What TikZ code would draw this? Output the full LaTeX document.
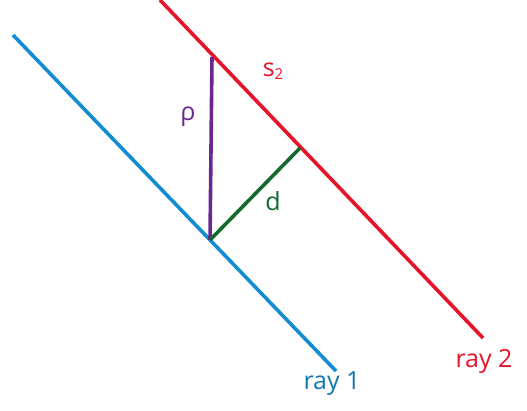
\documentclass[tikz,border=0pt]{standalone}
\usepackage{fontspec}
\setmainfont{Open Sans}
\usepackage{xcolor}
\definecolor{rayblue}{RGB}{20,140,210}
\definecolor{rayred}{RGB}{230,20,40}
\definecolor{rhopurple}{RGB}{105,40,145}
\definecolor{dgreen}{RGB}{20,105,45}

\begin{document}
\begin{tikzpicture}[
    x=1pt, y=-1pt,
    ray/.style={line width=3.6pt},
    lbl/.style={font=\fontsize{25}{28}\selectfont, inner sep=0pt},
]
\useasboundingbox (0,0) rectangle (527,410);
\coordinate (b1) at (13,35);
\coordinate (b2) at (336,371);
\coordinate (r1) at (160,0);
\coordinate (r2) at (483,338);
\coordinate (top) at (212,57);
\coordinate (foot) at (210,240);
\coordinate (perp) at (300,148);
\draw[ray, rayblue] (b1) -- (b2);
\draw[ray, rayred] (r1) -- (r2);
\draw[ray, rhopurple] (top) -- (foot);
\draw[ray, dgreen] (foot) -- (perp);
\node[lbl, text=rayred] (s2) at (273,71) {s\raisebox{-0.25ex}{\fontsize{15}{17}\selectfont 2}};
\node[lbl, text=rhopurple] (rho) at (188,117) {ρ};
\node[lbl, text=dgreen] (dlab) at (273,201) {d};
\node[lbl, text=rayblue!85!black] (ray1) at (332,384) {ray 1};
\node[lbl, text=rayred] (ray2) at (484,361) {ray 2};
\end{tikzpicture}
\end{document}
